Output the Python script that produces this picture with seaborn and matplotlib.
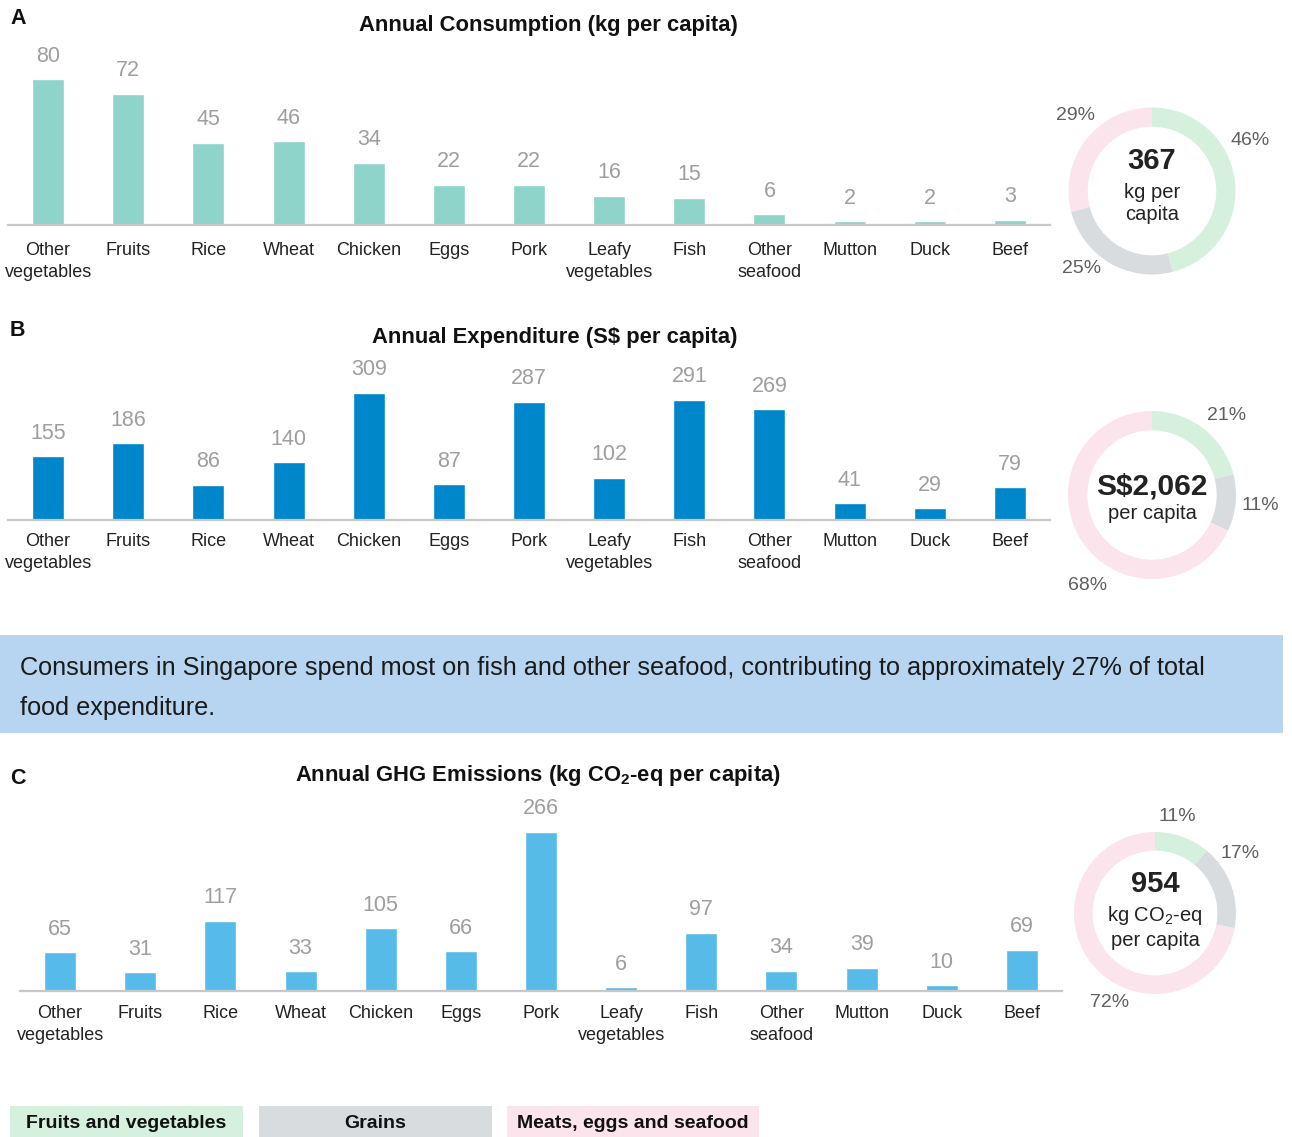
import matplotlib
matplotlib.use("Agg")
import matplotlib.pyplot as plt
import seaborn as sns
import pandas as pd
from matplotlib.patches import Rectangle

# categories shared by all three bar charts
categories = ["Other\nvegetables", "Fruits", "Rice", "Wheat", "Chicken", "Eggs", "Pork",
              "Leafy\nvegetables", "Fish", "Other\nseafood", "Mutton", "Duck", "Beef"]

consumption = [80, 72, 45, 46, 34, 22, 22, 16, 15, 6, 2, 2, 3]
expenditure = [155, 186, 86, 140, 309, 87, 287, 102, 291, 269, 41, 29, 79]
emissions = [65, 31, 117, 33, 105, 66, 266, 6, 97, 34, 39, 10, 69]

# donut shares: fruits & vegetables, grains, meats/eggs/seafood
groups = ["Fruits and vegetables", "Grains", "Meats, eggs and seafood"]
consumption_share = [46, 25, 29]
expenditure_share = [21, 11, 68]
emissions_share = [11, 17, 72]

W, H = 1292, 1137
GREEN, GREY, PINK = "#d5f0dd", "#d9dcdf", "#fbe4ec"
GROUP_COLORS = [GREEN, GREY, PINK]

sns.set_style("white")
plt.rcParams["font.family"] = ["Liberation Sans", "DejaVu Sans"]
plt.rcParams["mathtext.fontset"] = "custom"
plt.rcParams["mathtext.rm"] = "Liberation Sans"
plt.rcParams["mathtext.bf"] = "Liberation Sans:bold"


def px_rect(left, top, right, bottom):
    return [left / W, 1 - bottom / H, (right - left) / W, (bottom - top) / H]


fig = plt.figure(figsize=(W / 100, H / 100), dpi=100)


def bar_panel(rect, values, color, ymax, pad=12):
    ax = fig.add_axes(px_rect(*rect))
    df = pd.DataFrame({"cat": categories, "val": values})
    sns.barplot(data=df, x="cat", y="val", color=color, width=0.4, ax=ax,
                saturation=1, errorbar=None)
    ax.bar_label(ax.containers[0], labels=[str(v) for v in values], padding=9,
                 color="#9e9e9e", fontsize=15.5)
    ax.set_xlim(-0.5, len(categories) - 0.5)
    ax.set_ylim(0, ymax)
    ax.set_xlabel("")
    ax.set_ylabel("")
    ax.set_yticks([])
    for s in ["top", "left", "right"]:
        ax.spines[s].set_visible(False)
    ax.spines["bottom"].set_color("#c8c8c8")
    ax.spines["bottom"].set_linewidth(1.6)
    ax.tick_params(axis="x", length=0, pad=pad, labelsize=13, labelcolor="#222222")
    for lab in ax.get_xticklabels():
        lab.set_linespacing(1.4)
    return ax


def donut(center, radius, shares, label_pos, main, sub, main_y=0.28, sub_y=-0.18,
          main_size=21):
    cx, cy = center
    half = radius * 1.2
    ax = fig.add_axes(px_rect(cx - half, cy - half, cx + half, cy + half))
    ax.pie(shares, colors=GROUP_COLORS, startangle=90, counterclock=False,
           radius=1, wedgeprops=dict(width=0.23, edgecolor="none"))
    ax.set_xlim(-1.2, 1.2)
    ax.set_ylim(-1.2, 1.2)
    for s, (x, y) in zip(shares, label_pos):
        ax.text(x, y, f"{s}%", ha="center", va="center", fontsize=14, color="#5f5f5f")
    ax.text(0, main_y, main, ha="center", va="center", fontsize=main_size,
            fontweight="bold", color="#222222")
    ax.text(0, sub_y, sub, ha="center", va="center", fontsize=14.5,
            color="#222222", linespacing=1.25)
    return ax


# Panel A
bar_panel((8, 40, 1050, 225), consumption, "#8ed4ca", 101.4)
fig.text(548 / W, 1 - 25 / H, "Annual Consumption (kg per capita)", ha="center",
         va="center", fontsize=15.8, fontweight="bold", color="#111111")
fig.text(10 / W, 1 - 18 / H, "A", ha="left", va="center", fontsize=15.5,
         fontweight="bold", color="#111111")
donut((1152, 191), 83.5, consumption_share,
      [(1.18, 0.61), (-0.84, -0.93), (-0.92, 0.90)], "367", "kg per\ncapita",
      main_y=0.36, sub_y=-0.15)

# Panel B
bar_panel((8, 360, 1050, 520), expenditure, "#0086cb", 388, pad=9)
fig.text(555 / W, 1 - 338 / H, "Annual Expenditure (S$ per capita)", ha="center",
         va="center", fontsize=15.8, fontweight="bold", color="#111111")
fig.text(10 / W, 1 - 331 / H, "B", ha="left", va="center", fontsize=15.5,
         fontweight="bold", color="#111111")
donut((1152, 495), 84, expenditure_share,
      [(0.89, 0.95), (1.29, -0.12), (-0.77, -1.08)], "S$2,062", "per capita",
      main_y=0.1, sub_y=-0.22, main_size=21.5)

# Banner
fig.add_artist(Rectangle((0, 1 - 733 / H), 1283 / W, 98 / H, transform=fig.transFigure,
                         facecolor="#b7d5f0", edgecolor="none"))
fig.text(20 / W, 1 - 688 / H,
         "Consumers in Singapore spend most on fish and other seafood, contributing to approximately 27% of total\nfood expenditure.",
         ha="left", va="center", fontsize=18.2, color="#1a1a1a", linespacing=1.8)

# Panel C
bar_panel((20, 800, 1062, 991), emissions, "#56bbe8", 319, pad=10)
fig.text(538 / W, 1 - 776 / H, r"Annual GHG Emissions (kg CO$_\mathbf{2}$-eq per capita)",
         ha="center", va="center", fontsize=15.8, fontweight="bold", color="#111111")
fig.text(10 / W, 1 - 778 / H, "C", ha="left", va="center", fontsize=15.5,
         fontweight="bold", color="#111111")
donut((1155, 913), 81, emissions_share,
      [(0.27, 1.19), (1.05, 0.74), (-0.56, -1.11)], "954",
      "kg CO$_2$-eq\nper capita", main_y=0.36, sub_y=-0.17)

# Legend boxes
for name, color, (x0, x1) in zip(groups, GROUP_COLORS, [(10, 243), (259, 492), (507, 759)]):
    fig.add_artist(Rectangle((x0 / W, 0), (x1 - x0) / W, 31 / H, transform=fig.transFigure,
                             facecolor=color, edgecolor="none"))
    fig.text((x0 + x1) / 2 / W, 13.5 / H, name, ha="center", va="center", fontsize=14,
             fontweight="bold", color="#111111")

fig.savefig("out.png", dpi=100)
